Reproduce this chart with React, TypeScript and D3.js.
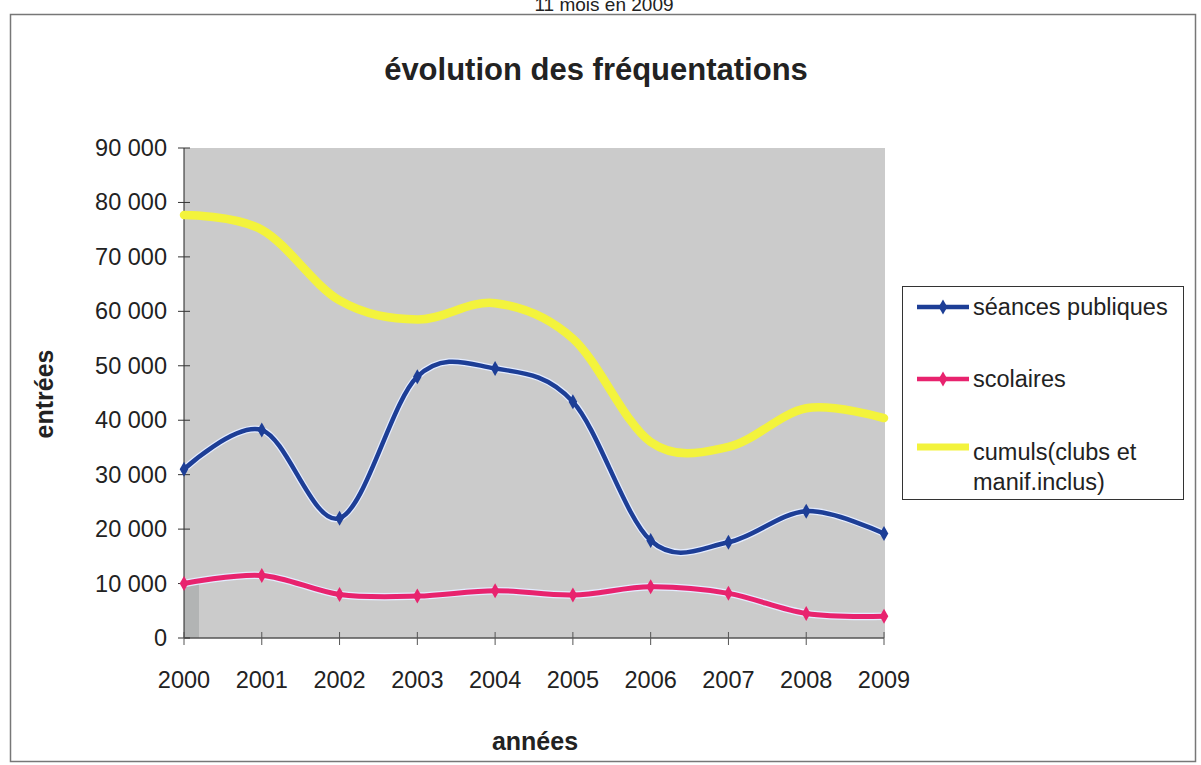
import React from "react";
import * as d3 from "d3";

const years = ["2000", "2001", "2002", "2003", "2004", "2005", "2006", "2007", "2008", "2009"];
const seancesPubliques = [31000, 38200, 22000, 48000, 49500, 43400, 17900, 17600, 23300, 19200];
const scolaires = [10000, 11500, 8000, 7700, 8700, 7900, 9400, 8200, 4500, 4000];
const cumuls = [77700, 75000, 62000, 58500, 61500, 55000, 36000, 35100, 42200, 40400];
const yTicks = [0, 10000, 20000, 30000, 40000, 50000, 60000, 70000, 80000, 90000];

const seriesList = [
  { name: "séances publiques", values: seancesPubliques, color: "#1d3e96", width: 4.5, marker: true },
  { name: "scolaires", values: scolaires, color: "#e8236e", width: 5, marker: true },
  { name: "cumuls(clubs et manif.inclus)", values: cumuls, color: "#f3f33c", width: 8.5, marker: false },
];

const FONT = "'Liberation Sans', Arial, sans-serif";

export default function App() {
  const W = 1201, H = 765;
  const left = 184, right = 884, top = 148, bottom = 638;
  const x = d3.scalePoint<string>().domain(years).range([left, right]);
  const y = d3.scaleLinear().domain([0, 90000]).range([bottom, top]);
  const line = d3
    .line<number>()
    .x((_, i) => x(years[i]) as number)
    .y((v) => y(v))
    .curve(d3.curveCardinal.tension(0));
  const diamond = d3.symbol().type(d3.symbolDiamond).size(65)() as string;
  const fmt = (v: number) => (v === 0 ? "0" : d3.format(",")(v).replace(/,/g, " "));

  const order = [seriesList[2], seriesList[1], seriesList[0]];

  return (
    <svg width={W} height={H} style={{ position: "absolute", left: 0, top: 0 }} fontFamily={FONT}>
      <rect x={0} y={0} width={W} height={H} fill="#fff" />
      <text x={604} y={11} textAnchor="middle" fontSize={19} fill="#222">11 mois en 2009</text>
      <rect x={10.5} y={14.5} width={1185} height={747} fill="#fff" stroke="#777" strokeWidth={1.5} />
      <text x={596} y={80} textAnchor="middle" fontSize={31} fontWeight="bold" fill="#222">
        évolution des fréquentations
      </text>

      {/* plot area */}
      <rect x={left} y={top} width={right - left + 1} height={bottom - top} fill="#cbcbcb" />
      <rect x={left} y={y(10000)} width={15} height={bottom - y(10000)} fill="#b2b4b4" />

      {/* axes */}
      <line x1={left} x2={left} y1={top} y2={bottom} stroke="#222" strokeWidth={1} />
      <line x1={left} x2={right} y1={bottom} y2={bottom} stroke="#555" strokeWidth={1.5} />
      {yTicks.map((t) => (
        <g key={t}>
          <line x1={left - 6} x2={left + 6} y1={y(t)} y2={y(t)} stroke="#333" strokeWidth={1} />
          <text x={167} y={y(t) + 8} textAnchor="end" fontSize={23.5} fill="#222">{fmt(t)}</text>
        </g>
      ))}
      {years.map((yr) => (
        <g key={yr}>
          <line x1={x(yr)} x2={x(yr)} y1={bottom - 6} y2={bottom + 7} stroke="#555" strokeWidth={1} />
          <text x={x(yr)} y={bottom + 50} textAnchor="middle" fontSize={23.5} fill="#222">{yr}</text>
        </g>
      ))}
      <text
        transform={`translate(53,394) rotate(-90)`}
        textAnchor="middle"
        fontSize={25}
        fontWeight="bold"
        fill="#222"
      >
        entrées
      </text>
      <text x={535} y={750} textAnchor="middle" fontSize={25} fontWeight="bold" fill="#222">années</text>

      {/* series */}
      {order.map((s) => (
        <g key={s.name}>
          {s.marker && (
            <path d={line(s.values) as string} fill="none" stroke="#e4ecff" strokeWidth={s.width + 2.5} strokeLinejoin="round" />
          )}
          <path d={line(s.values) as string} fill="none" stroke={s.color} strokeWidth={s.width} strokeLinejoin="round" strokeLinecap="round" />
          {s.marker &&
            s.values.map((v, i) => (
              <path key={i} d={diamond} transform={`translate(${x(years[i])},${y(v)})`} fill={s.color} />
            ))}
        </g>
      ))}

      {/* legend */}
      <rect x={902.5} y={286.5} width={281} height={213} fill="#fff" stroke="#333" strokeWidth={1} />
      {[
        { s: seriesList[0], ly: 307, lines: ["séances publiques"] },
        { s: seriesList[1], ly: 379, lines: ["scolaires"] },
        { s: seriesList[2], ly: 447, lines: ["cumuls(clubs et", "manif.inclus)"] },
      ].map(({ s, ly, lines }) => (
        <g key={s.name}>
          <line x1={917} x2={969} y1={ly} y2={ly} stroke={s.color} strokeWidth={s.marker ? 4.5 : 7} />
          {s.marker && <path d={diamond} transform={`translate(943,${ly})`} fill={s.color} />}
          {lines.map((t, j) => (
            <text key={j} x={973} y={ly + 8 + j * 30 + (lines.length > 1 ? 5 : 0)} fontSize={23.5} fill="#222">{t}</text>
          ))}
        </g>
      ))}
    </svg>
  );
}
